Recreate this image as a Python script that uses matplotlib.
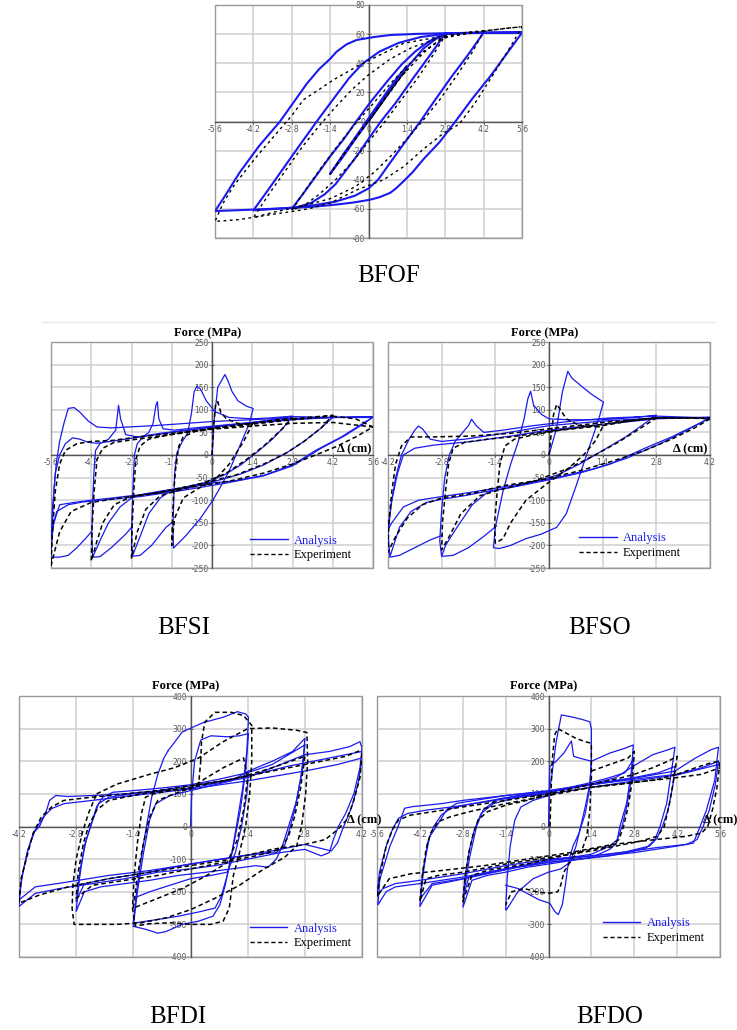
#!/usr/bin/env python3

import matplotlib
matplotlib.use('Agg')
import matplotlib.pyplot as plt
from matplotlib.lines import Line2D
from matplotlib.patches import Rectangle

W, H = 737, 1030
BLUE = '#1a1aee'
SERIF = 'Liberation Serif'
SANS = 'Liberation Sans'

# tick values
X56 = [-5.6, -4.2, -2.8, -1.4, 0, 1.4, 2.8, 4.2, 5.6]
X42 = [-4.2, -2.8, -1.4, 0, 1.4, 2.8, 4.2]
Y80 = [-80, -60, -40, -20, 0, 20, 40, 60, 80]
Y250 = [-250, -200, -150, -100, -50, 0, 50, 100, 150, 200, 250]
Y400 = [-400, -300, -200, -100, 0, 100, 200, 300, 400]

# ---------------- BFOF (displacement cm, force) ----------------
BFOF_A14 = [(0, 0), (0.5, 14), (1.0, 27), (1.4, 38), (1.0, 29), (0.4, 13), (-0.3, -6), (-0.9, -22),
            (-1.4, -36), (-1.0, -26), (-0.4, -10), (0.3, 8), (0.9, 24), (1.4, 37)]
BFOF_A28 = [(1.4, 37), (2.0, 50), (2.4, 56), (2.8, 60.5), (2.3, 47), (1.6, 29), (1.0, 13), (0.45, 0),
            (0, -12), (-0.4, -23), (-0.8, -33), (-1.2, -43), (-1.6, -50), (-2.1, -56), (-2.8, -60),
            (-2.4, -50), (-1.9, -37), (-1.4, -24), (-0.9, -12), (-0.45, 0), (0.1, 14), (0.7, 28),
            (1.2, 39), (1.7, 48), (2.2, 55), (2.8, 60.5)]
BFOF_A42 = [(2.8, 60.5), (3.5, 60.8), (4.2, 61), (3.6, 45), (3.0, 30), (2.4, 14), (1.89, 0), (1.3, -15),
            (0.8, -28), (0.35, -40), (0, -46), (-0.5, -51), (-1.2, -55), (-2.0, -57.5), (-3.0, -59.5),
            (-4.2, -61), (-3.7, -48), (-3.1, -32), (-2.5, -16), (-1.89, 0), (-1.3, 15), (-0.7, 30),
            (-0.2, 40), (0.4, 48), (1.1, 54), (1.9, 58), (2.8, 60.2), (4.2, 61)]
BFOF_A56 = [(4.2, 61), (5.0, 61), (5.6, 61), (5.1, 48), (4.44, 31), (3.8, 16), (3.17, 0), (2.6, -14),
            (2.0, -26), (1.6, -35), (1.28, -41), (1.0, -46), (0.79, -49), (0.4, -52), (0.06, -53.7),
            (-0.5, -55.5), (-1.16, -57), (-2.0, -58.5), (-2.86, -59.4), (-4.2, -60.5), (-5.6, -61.5),
            (-5.3, -53), (-4.7, -35), (-4.0, -17), (-3.23, 0), (-2.7, 14), (-2.25, 26), (-1.8, 36),
            (-1.4, 43), (-1.16, 48), (-0.8, 53), (-0.43, 56), (0.2, 58), (0.8, 59.4), (1.8, 60.2),
            (2.74, 60.6), (4.2, 61), (5.6, 61.2)]
BFOF_E14 = [(0, 0), (0.7, 18), (1.4, 36), (0.9, 24), (0.3, 8), (-0.4, -10), (-1.0, -25), (-1.4, -36),
            (-0.8, -20), (-0.2, -4), (0.5, 13), (1.1, 29), (1.4, 35)]
BFOF_E28 = [(1.4, 35), (2.0, 47), (2.5, 55), (2.8, 59), (2.3, 44), (1.8, 30), (1.2, 15), (0.6, 0),
            (0, -14), (-0.6, -28), (-1.2, -40), (-1.8, -50), (-2.3, -57), (-2.8, -61), (-2.3, -47),
            (-1.7, -31), (-1.1, -16), (-0.5, -2), (0.2, 13), (0.8, 26), (1.4, 38), (2.0, 48), (2.8, 58)]
BFOF_E42 = [(2.8, 58), (3.5, 61), (4.2, 62), (3.8, 48), (3.2, 31), (2.6, 15), (2.0, 1), (1.4, -12),
            (0.8, -24), (0.2, -35), (-0.5, -45), (-1.4, -53), (-2.4, -58), (-3.4, -62), (-4.2, -66),
            (-3.6, -49), (-3.0, -33), (-2.4, -17), (-1.8, -3), (-1.2, 10), (-0.6, 22), (0, 32),
            (0.8, 43), (1.6, 51), (2.4, 56), (3.2, 59), (4.2, 62)]
BFOF_E56 = [(4.2, 62), (5.0, 64), (5.6, 65), (5.2, 52), (4.44, 29), (3.9, 13), (3.3, -2), (2.74, -8),
            (2.0, -19), (1.28, -31), (0.55, -40), (-0.43, -47), (-1.4, -56), (-2.2, -60), (-2.86, -62),
            (-3.6, -64), (-4.08, -65.5), (-4.8, -67.5), (-5.6, -68.6), (-5.3, -56), (-4.93, -44.6),
            (-4.5, -34), (-4.08, -24), (-3.35, -8), (-2.8, 4), (-2.37, 15), (-1.8, 22), (-1.28, 28.6),
            (-0.43, 37.7), (0.3, 44.6), (1.28, 53.7), (2.25, 57), (3.0, 59.5), (3.83, 61.7),
            (4.6, 63), (5.54, 65)]

# ---------------- BFSI ----------------
BFSI_A14 = [(0, 0), (0.08, 80), (0.2, 150), (0.45, 178), (0.55, 165), (0.7, 140), (0.9, 120), (1.2, 108),
            (1.43, 103), (1.3, 70), (1.0, 25), (0.6, -35), (0.3, -70), (0.05, -98), (-0.4, -140),
            (-0.9, -178), (-1.34, -206), (-1.36, -160), (-1.33, -100), (-1.3, -40), (-1.22, 5),
            (-1.05, 28), (-0.85, 48), (-0.72, 90), (-0.62, 140), (-0.53, 152), (-0.4, 146), (-0.2, 120),
            (0.1, 96), (0.6, 83), (1.4, 80)]
BFSI_A28 = [(1.4, 80), (2.0, 82), (2.8, 86), (2.5, 62), (2.1, 35), (1.6, 8), (1.0, -22), (0.4, -45),
            (-0.3, -62), (-1.0, -72), (-1.4, -78), (-1.8, -95), (-2.2, -130), (-2.5, -180), (-2.77, -224),
            (-2.8, -195), (-2.78, -130), (-2.74, -60), (-2.7, 0), (-2.6, 25), (-2.4, 40), (-2.2, 50),
            (-2.05, 70), (-1.95, 110), (-1.9, 118), (-1.85, 80), (-1.7, 58), (-1.3, 55), (-0.6, 60),
            (0.2, 65), (1.4, 72), (2.8, 85)]
BFSI_A42 = [(2.8, 85), (3.5, 84), (4.2, 83), (3.8, 60), (3.2, 30), (2.6, 5), (1.8, -22), (1.0, -42),
            (0, -60), (-1.0, -72), (-1.8, -80), (-2.5, -88), (-2.8, -95), (-3.2, -115), (-3.6, -150),
            (-3.9, -190), (-4.15, -226), (-4.18, -180), (-4.15, -100), (-4.1, -30), (-4.05, 10),
            (-3.9, 25), (-3.6, 35), (-3.35, 55), (-3.25, 110), (-3.18, 80), (-3.0, 45), (-2.6, 40),
            (-1.8, 48), (-0.5, 58), (1.0, 68), (2.8, 78), (4.2, 83)]
BFSI_A56 = [(4.2, 83), (5.0, 84), (5.6, 84), (5.2, 68), (4.5, 40), (3.6, 10), (2.8, -22), (1.8, -45),
            (0.8, -57), (0, -62), (-1.0, -75), (-2.0, -85), (-2.8, -90), (-3.6, -96), (-4.2, -100),
            (-4.8, -105), (-5.3, -110), (-5.5, -150), (-5.6, -200), (-5.55, -150), (-5.5, -80),
            (-5.42, -20), (-5.3, 30), (-5.15, 70), (-5.0, 103), (-4.8, 105), (-4.6, 95), (-4.3, 75),
            (-4.0, 62), (-3.5, 60), (-2.0, 65), (0, 74), (2.0, 80), (4.0, 83), (5.6, 84)]
BFSI_A56B = [(5.6, 84), (5.3, 70), (4.6, 42), (3.8, 15), (2.8, -24), (1.8, -46), (0.5, -62), (-1.0, -78),
             (-2.5, -92), (-3.5, -98), (-4.5, -104), (-5.0, -110), (-5.4, -125), (-5.55, -160),
             (-5.6, -226), (-5.3, -226), (-5.0, -222), (-4.7, -205), (-4.4, -185), (-4.2, -170)]
BFSI_A56C = [(-5.6, -200), (-5.55, -120), (-5.45, -40), (-5.3, 0), (-5.1, 25), (-4.85, 38), (-4.6, 35),
             (-4.3, 28), (-4.0, 26), (-3.0, 35), (-1.4, 50), (0, 62), (1.4, 72), (2.8, 80), (4.2, 83),
             (5.6, 83)]
BFSI_L42 = [(-4.15, -226), (-3.9, -225), (-3.5, -205), (-3.0, -175), (-2.8, -160)]
BFSI_L28 = [(-2.77, -224), (-2.5, -222), (-2.1, -200), (-1.6, -160), (-1.4, -150)]
BFSI_E14 = [(0, 0), (0.05, 60), (0.12, 110), (0.2, 118), (0.3, 95), (0.5, 80), (0.9, 70), (1.4, 68),
            (1.1, 30), (0.6, -20), (0.1, -55), (-0.5, -75), (-1.0, -95), (-1.3, -140), (-1.4, -200),
            (-1.38, -150), (-1.33, -80), (-1.25, -20), (-1.15, 20), (-1.0, 40), (-0.6, 52), (0, 60),
            (0.7, 65), (1.4, 70)]
BFSI_E28 = [(1.4, 70), (2.1, 76), (2.8, 82), (2.4, 55), (1.8, 20), (1.2, -10), (0.5, -40), (-0.3, -62),
            (-1.0, -75), (-1.8, -90), (-2.3, -120), (-2.6, -170), (-2.8, -228), (-2.78, -160),
            (-2.72, -80), (-2.65, -10), (-2.5, 20), (-2.2, 35), (-1.5, 45), (-0.5, 55), (0.8, 65),
            (2.0, 75), (2.8, 80)]
BFSI_E42 = [(2.8, 80), (3.5, 84), (4.2, 88), (3.8, 60), (3.2, 30), (2.6, 5), (1.8, -20), (0.8, -45),
            (-0.5, -65), (-1.8, -82), (-2.8, -92), (-3.4, -110), (-3.8, -150), (-4.0, -190),
            (-4.2, -235), (-4.17, -160), (-4.1, -80), (-4.0, -10), (-3.8, 15), (-3.4, 28), (-2.6, 35),
            (-1.4, 45), (0, 58), (1.4, 68), (2.8, 78), (4.2, 86)]
BFSI_E56 = [(4.2, 86), (5.0, 80), (5.6, 62), (5.0, 40), (4.3, 18), (3.6, 0), (2.8, -20), (1.8, -40),
            (0.6, -58), (-0.8, -72), (-2.0, -85), (-3.2, -95), (-4.2, -105), (-4.9, -125), (-5.3, -170),
            (-5.6, -245), (-5.55, -170), (-5.45, -80), (-5.3, -20), (-5.1, 10), (-4.7, 25), (-4.2, 30),
            (-3.5, 32), (-2.8, 38), (-1.4, 48), (0, 57), (1.4, 64), (2.8, 70), (4.2, 72), (5.6, 62)]

# ---------------- BFSO ----------------
BFSO_A14 = [(0, 0), (0.2, 60), (0.35, 140), (0.49, 185), (0.6, 170), (0.85, 152), (1.1, 135), (1.42, 117),
            (1.3, 80), (1.1, 30), (0.9, -20), (0.7, -70), (0.45, -130), (0.2, -160), (-0.2, -175),
            (-0.6, -185), (-1.0, -200), (-1.3, -207), (-1.45, -205), (-1.4, -160), (-1.2, -80),
            (-1.0, -20), (-0.8, 30), (-0.65, 80), (-0.55, 125), (-0.48, 141), (-0.4, 110), (-0.2, 90),
            (0, 80), (0.5, 78), (1.4, 78)]
BFSO_A28 = [(1.4, 78), (2.1, 82), (2.8, 88), (2.5, 70), (2.0, 40), (1.4, 10), (0.8, -20), (0.2, -45),
            (-0.5, -62), (-1.2, -75), (-1.6, -82), (-2.0, -110), (-2.4, -160), (-2.7, -200), (-2.8, -225),
            (-2.85, -190), (-2.8, -120), (-2.72, -50), (-2.6, 0), (-2.45, 30), (-2.3, 45), (-2.1, 65),
            (-2.02, 79), (-1.9, 65), (-1.7, 50), (-1.2, 55), (-0.4, 65), (0.6, 75), (1.6, 82), (2.8, 86)]
BFSO_A42 = [(2.8, 86), (3.5, 84), (4.2, 82), (3.8, 65), (3.2, 40), (2.5, 15), (1.6, -20), (0.8, -40),
            (0, -55), (-1.0, -72), (-1.6, -80), (-2.2, -90), (-2.8, -98), (-3.2, -105), (-3.6, -125),
            (-3.9, -160), (-4.15, -225), (-4.2, -175), (-4.12, -110), (-4.0, -50), (-3.85, 0),
            (-3.65, 35), (-3.5, 55), (-3.41, 64), (-3.3, 58), (-3.1, 35), (-2.8, 30), (-2.2, 35),
            (-1.4, 45), (0, 65), (1.4, 75), (2.8, 82), (4.2, 82)]
BFSO_A42B = [(4.2, 82), (3.6, 55), (2.9, 25), (2.0, -8), (1.2, -30), (0.2, -50), (-1.0, -68), (-2.0, -82),
             (-2.8, -92), (-3.4, -100), (-3.8, -115), (-4.1, -150), (-4.2, -165), (-4.1, -100),
             (-3.95, -40), (-3.8, 0), (-3.5, 15), (-3.0, 22), (-2.0, 30), (-1.0, 42), (0, 55), (1.4, 68),
             (2.8, 80), (4.2, 84)]
BFSO_L42 = [(-4.15, -226), (-3.9, -222), (-3.5, -205), (-3.1, -188), (-2.8, -178)]
BFSO_L28 = [(-2.76, -224), (-2.5, -222), (-2.1, -205), (-1.7, -180), (-1.37, -157)]
BFSO_E14 = [(0, 0), (0.05, 40), (0.12, 90), (0.2, 112), (0.3, 100), (0.45, 80), (0.8, 65), (1.4, 62),
            (1.2, 30), (0.9, 0), (0.5, -30), (0, -60), (-0.6, -100), (-1.0, -150), (-1.2, -185),
            (-1.4, -195), (-1.42, -150), (-1.35, -80), (-1.28, -20), (-1.15, 20), (-0.9, 35),
            (-0.4, 45), (0.3, 55), (1.4, 65)]
BFSO_E28 = [(1.4, 65), (2.1, 75), (2.8, 82), (2.4, 60), (1.8, 28), (1.2, 0), (0.5, -30), (-0.4, -58),
            (-1.2, -75), (-1.8, -90), (-2.3, -130), (-2.6, -180), (-2.8, -210), (-2.78, -150),
            (-2.7, -80), (-2.62, -20), (-2.5, 15), (-2.2, 28), (-1.6, 35), (-1.0, 40), (0, 52),
            (1.4, 68), (2.8, 82)]
BFSO_E42 = [(2.8, 82), (3.6, 82), (4.2, 80), (3.8, 60), (3.2, 35), (2.5, 10), (1.6, -15), (0.8, -35),
            (-0.2, -55), (-1.2, -68), (-2.0, -85), (-2.8, -95), (-3.3, -110), (-3.7, -140), (-4.0, -180),
            (-4.2, -215), (-4.18, -150), (-4.1, -80), (-4.0, -20), (-3.85, 20), (-3.6, 40), (-3.0, 40),
            (-2.0, 42), (-1.0, 48), (0, 58), (1.4, 72), (2.8, 82), (4.2, 82)]

# ---------------- BFDI ----------------
BFDI_A1 = [(0, 0), (0.03, 100), (0.1, 200), (0.25, 265), (0.5, 278), (0.9, 275), (1.2, 278), (1.42, 285),
           (1.35, 170), (1.22, 50), (1.05, -60), (0.9, -150), (0.75, -215), (0.6, -250), (0.2, -262),
           (-0.3, -275), (-0.8, -285), (-1.4, -296), (-1.32, -200), (-1.2, -90), (-1.08, 0), (-0.95, 90),
           (-0.8, 160), (-0.65, 210), (-0.55, 232)]
BFDI_A2 = [(-0.55, 232), (-0.2, 290), (0.3, 318), (0.8, 335), (1.15, 352), (1.35, 345), (1.42, 335),
           (1.38, 230), (1.28, 120), (1.15, 20), (1.0, -90), (0.85, -180), (0.72, -240), (0.55, -275),
           (0.2, -290), (-0.2, -300), (-0.6, -322), (-0.8, -327), (-1.1, -315), (-1.4, -306)]
BFDI_A3 = [(-1.4, -306), (-1.3, -200), (-1.15, -80), (-1.0, 20), (-0.85, 70), (-0.5, 95), (0, 110),
           (0.5, 125), (1.0, 140), (1.42, 170), (1.38, 100), (1.25, 0), (1.1, -80), (0.9, -140),
           (0.5, -150), (0, -160), (-0.5, -180), (-1.0, -200), (-1.4, -220)]
BFDI_A4 = [(1.42, 170), (2.0, 200), (2.5, 230), (2.8, 270), (2.75, 180), (2.6, 80), (2.4, 0), (2.25, -60),
           (2.1, -100), (1.9, -125), (1.6, -120), (1.0, -130), (0.4, -140), (-0.3, -150), (-1.0, -165),
           (-1.6, -175), (-2.2, -185), (-2.6, -200), (-2.8, -260), (-2.72, -160), (-2.6, -60),
           (-2.45, 0), (-2.3, 60), (-2.15, 90), (-1.9, 105), (-1.4, 110), (-0.7, 118), (0, 128),
           (0.7, 145), (1.4, 165), (2.0, 190), (2.8, 250)]
BFDI_A5 = [(2.8, 250), (2.7, 150), (2.55, 50), (2.4, -20), (2.3, -60), (2.1, -80), (1.6, -85), (1.0, -95),
           (0, -115), (-1.0, -140), (-2.0, -160), (-2.6, -175), (-2.8, -230), (-2.7, -130),
           (-2.55, -40), (-2.42, 10), (-2.25, 70), (-2.0, 90), (-1.4, 100), (0, 118), (1.4, 150),
           (2.2, 190), (2.8, 220)]
BFDI_A6 = [(2.8, 220), (3.4, 230), (3.9, 245), (4.15, 260), (4.2, 240), (4.15, 180), (4.0, 100),
           (3.8, 40), (3.62, 0), (3.5, -40), (3.4, -80), (3.2, -90), (2.8, -70), (2.2, -80), (1.4, -100),
           (0.6, -120), (0, -130), (-0.8, -140), (-1.6, -160), (-2.4, -175), (-3.2, -190), (-3.8, -205),
           (-4.2, -245), (-4.15, -170), (-4.0, -80), (-3.85, -20), (-3.7, 0), (-3.55, 40), (-3.45, 80),
           (-3.3, 95), (-3.0, 92), (-2.4, 95), (-1.6, 100), (-0.8, 110), (0, 125), (0.8, 140),
           (1.6, 160), (2.4, 185), (3.2, 205), (4.2, 230)]
BFDI_A7 = [(4.2, 205), (4.1, 130), (3.95, 60), (3.75, 0), (3.6, -50), (3.45, -75), (2.8, -55), (2.0, -75),
           (1.0, -95), (0, -115), (-1.0, -135), (-2.0, -150), (-3.0, -170), (-3.8, -185), (-4.2, -225),
           (-4.12, -150), (-3.98, -70), (-3.8, -10), (-3.6, 30), (-3.4, 55), (-3.1, 70), (-2.4, 80),
           (-1.4, 95), (0, 115), (1.4, 140), (2.8, 170), (3.6, 190), (4.2, 210)]
BFDI_E1 = [(0.25, 200), (0.27, 260), (0.35, 320), (0.6, 350), (1.0, 350), (1.3, 340), (1.5, 310),
           (1.5, 200), (1.45, 100), (1.35, 0), (1.2, -80), (1.05, -150), (0.95, -250), (0.8, -290),
           (0.5, -300), (0, -300), (-0.5, -295), (-1.0, -298), (-1.35, -305), (-1.42, -250),
           (-1.38, -150), (-1.3, -50), (-1.2, 40), (-1.1, 90), (-0.9, 100), (-0.5, 110), (0, 115),
           (0.2, 130), (0.25, 200)]
BFDI_E2 = [(-2.3, 100), (-1.8, 130), (-1.0, 160), (-0.4, 180), (0.2, 210), (0.8, 260), (1.4, 300),
           (2.0, 302), (2.6, 295), (2.85, 288), (2.87, 200), (2.82, 100), (2.72, 0), (2.6, -60),
           (2.3, -95), (1.8, -130), (1.2, -180), (0.6, -220), (0, -255), (-0.6, -280), (-1.2, -295),
           (-1.8, -300), (-2.5, -300), (-2.85, -300), (-2.9, -250), (-2.88, -180), (-2.8, -100),
           (-2.65, -20), (-2.5, 40), (-2.3, 100)]
BFDI_E3 = [(4.2, 225), (4.15, 150), (4.0, 80), (3.82, 20), (3.6, -10), (3.3, -40), (2.8, -55), (2.0, -70),
           (1.0, -100), (0, -120), (-1.0, -140), (-2.0, -160), (-3.0, -185), (-3.7, -210), (-4.2, -235),
           (-4.15, -160), (-4.0, -90), (-3.85, -20), (-3.65, 30), (-3.4, 60), (-3.1, 80), (-2.4, 90),
           (-1.6, 100), (-0.8, 110), (0, 125), (0.8, 140), (1.6, 160), (2.4, 180), (3.2, 200),
           (3.8, 215), (4.2, 235)]
BFDI_E4 = [(2.8, 215), (2.7, 120), (2.55, 30), (2.4, -30), (2.2, -70), (1.6, -90), (0.8, -110), (0, -130),
           (-0.8, -150), (-1.6, -165), (-2.4, -180), (-2.8, -220), (-2.75, -140), (-2.62, -50),
           (-2.5, 0), (-2.3, 50), (-2.0, 80), (-1.2, 100), (0, 120), (1.2, 150), (2.0, 180), (2.8, 215)]
BFDI_E5 = [(-1.4, -250), (-1.3, -150), (-1.15, -50), (-1.0, 30), (-0.8, 80), (-0.4, 100), (0, 118),
           (0.4, 150), (0.8, 180), (1.3, 210), (1.4, 150), (1.3, 50), (1.15, -40), (0.9, -110),
           (0.4, -150), (-0.2, -190), (-0.8, -220), (-1.4, -250)]

# ---------------- BFDO ----------------
BFDO_A1 = [(0, 0), (0.02, 100), (0.04, 184), (0.25, 200), (0.5, 225), (0.7, 255), (0.75, 262), (0.82, 215),
           (1.0, 210), (1.4, 200), (1.35, 120), (1.2, 40), (1.0, -20), (0.8, -60), (0.65, -110),
           (0.55, -180), (0.45, -240), (0.32, -270), (0.2, -260), (0.04, -235), (-0.3, -225),
           (-0.72, -204), (-1.0, -190), (-1.4, -180)]
BFDO_A2 = [(-1.4, -255), (-1.35, -160), (-1.25, -60), (-1.1, 20), (-0.9, 60), (-0.5, 80), (0, 95),
           (0.1, 150), (0.25, 260), (0.42, 342), (0.8, 335), (1.1, 328), (1.35, 321), (1.4, 300),
           (1.4, 200), (1.35, 130), (1.2, 60), (1.05, 0), (0.9, -60), (0.7, -110), (0.4, -130), (0, -140),
           (-0.5, -160), (-1.0, -200), (-1.37, -255)]
BFDO_A3 = [(1.4, 200), (2.0, 225), (2.5, 240), (2.77, 250), (2.71, 173), (2.55, 71), (2.33, 0),
           (2.22, -51), (2.0, -70), (1.4, -95), (0.7, -105), (0, -115), (-0.7, -125), (-1.4, -140),
           (-2.0, -150), (-2.5, -165), (-2.79, -247), (-2.73, -184), (-2.57, -92), (-2.35, 0),
           (-2.13, 51), (-1.7, 82), (-1.0, 95), (0, 108), (0.7, 120), (1.4, 135), (2.0, 150),
           (2.5, 165), (2.77, 205)]
BFDO_A4 = [(2.77, 205), (2.7, 140), (2.55, 60), (2.4, 0), (2.25, -40), (2.0, -60), (1.4, -85), (0, -105),
           (-1.4, -130), (-2.2, -145), (-2.6, -155), (-2.78, -215), (-2.72, -150), (-2.58, -70),
           (-2.42, -10), (-2.2, 40), (-1.8, 70), (-1.0, 90), (0, 105), (1.4, 130), (2.2, 150),
           (2.77, 185)]
BFDO_A5 = [(2.77, 185), (3.4, 220), (3.9, 235), (4.13, 243), (4.02, 173), (3.86, 71), (3.64, 0),
           (3.47, -41), (3.2, -65), (2.8, -75), (2.0, -90), (1.0, -100), (0, -110), (-1.0, -125),
           (-2.0, -145), (-3.0, -165), (-3.8, -180), (-4.2, -245), (-4.1, -133), (-3.88, -31),
           (-3.66, 0), (-3.33, 51), (-3.0, 71), (-2.4, 80), (-1.4, 95), (0, 110), (1.4, 130),
           (2.8, 150), (3.6, 165), (4.13, 184)]
BFDO_A6 = [(4.13, 184), (4.05, 120), (3.9, 50), (3.72, 0), (3.55, -35), (3.3, -60), (2.5, -78), (1.0, -95),
           (0, -105), (-1.4, -130), (-2.8, -160), (-3.8, -175), (-4.18, -220), (-4.1, -150),
           (-3.95, -50), (-3.75, 0), (-3.5, 35), (-3.2, 55), (-2.6, 68), (-1.4, 88), (0, 105),
           (1.4, 128), (2.8, 148), (4.13, 170)]
BFDO_A7 = [(4.13, 170), (4.8, 210), (5.3, 235), (5.55, 243), (5.43, 143), (5.16, 51), (4.95, 0),
           (4.73, -51), (4.2, -60), (3.5, -70), (2.8, -80), (1.4, -95), (0, -110), (-1.4, -130),
           (-2.8, -155), (-4.2, -175), (-5.0, -185), (-5.3, -200), (-5.57, -240), (-5.51, -163),
           (-5.18, -61), (-4.91, 0), (-4.7, 56), (-4.43, 61), (-3.5, 70), (-2.8, 80), (-1.4, 95),
           (0, 108), (1.4, 128), (2.8, 145), (4.2, 160), (5.0, 180), (5.55, 200)]
BFDO_A8 = [(5.55, 200), (5.45, 130), (5.25, 50), (5.05, 0), (4.85, -40), (4.5, -55), (3.5, -65),
           (2.0, -85), (0, -100), (-1.4, -120), (-2.8, -145), (-4.2, -165), (-5.0, -175), (-5.4, -190),
           (-5.6, -210), (-5.52, -140), (-5.3, -60), (-5.1, -10), (-4.9, 25), (-4.6, 40), (-4.0, 50),
           (-3.0, 62), (-1.4, 85), (0, 100), (1.4, 120), (2.8, 140), (4.2, 158), (5.55, 190)]
BFDO_E1 = [(0.05, 0), (0.08, 100), (0.12, 200), (0.2, 280), (0.3, 300), (0.6, 285), (0.9, 270),
           (1.2, 260), (1.4, 255), (1.4, 150), (1.35, 50), (1.25, -30), (1.1, -70), (0.8, -95),
           (0.5, -140), (0.4, -180), (0.3, -200), (0, -205), (-0.4, -200), (-0.8, -190), (-1.2, -200),
           (-1.4, -240)]
BFDO_E2 = [(1.4, 170), (2.0, 190), (2.6, 210), (2.8, 230), (2.75, 150), (2.6, 60), (2.45, 0), (2.3, -40),
           (2.0, -60), (1.4, -70), (0.7, -85), (0, -100), (-0.7, -115), (-1.4, -125), (-2.0, -135),
           (-2.5, -150), (-2.8, -230), (-2.72, -150), (-2.6, -80), (-2.45, -20), (-2.3, 20), (-2.0, 45),
           (-1.4, 65), (-0.7, 80), (0, 100), (0.7, 115), (1.4, 130), (2.2, 145), (2.8, 160)]
BFDO_E3 = [(2.8, 160), (3.4, 180), (3.9, 200), (4.2, 215), (4.1, 150), (3.95, 70), (3.78, 0), (3.55, -30),
           (3.0, -45), (2.2, -60), (1.4, -75), (0, -95), (-1.4, -115), (-2.8, -140), (-3.6, -150),
           (-4.0, -160), (-4.2, -230), (-4.12, -150), (-4.0, -70), (-3.85, -20), (-3.6, 15), (-3.2, 30),
           (-2.6, 45), (-1.4, 70), (0, 95), (1.4, 120), (2.8, 135), (3.6, 145), (4.2, 160)]
BFDO_E4 = [(4.2, 160), (4.8, 180), (5.3, 195), (5.6, 200), (5.5, 120), (5.35, 50), (5.2, 0), (5.0, -20),
           (4.5, -30), (3.5, -40), (2.1, -55), (0.7, -80), (-0.7, -100), (-2.1, -120), (-3.5, -135),
           (-4.5, -145), (-5.2, -160), (-5.6, -215), (-5.5, -150), (-5.3, -60), (-5.1, -10), (-4.9, 20),
           (-4.5, 35), (-3.8, 45), (-2.8, 60), (-1.4, 80), (0, 100), (1.4, 120), (2.8, 135), (4.2, 150),
           (5.0, 160), (5.6, 180)]


def rect(l, t, r, b):
    return [l / W, 1 - b / H, (r - l) / W, (b - t) / H]


def frame(ax, xt, yt):
    ax.set_xlim(xt[0], xt[-1])
    ax.set_ylim(yt[0], yt[-1])
    ax.set_xticks(xt)
    ax.set_yticks(yt)
    ax.set_xticklabels(['%g' % v for v in xt], fontfamily=SANS)
    ax.set_yticklabels(['%g' % v for v in yt], fontfamily=SANS)
    ax.spines['top'].set_visible(False)
    ax.spines['right'].set_visible(False)
    for s in ['left', 'bottom']:
        ax.spines[s].set_position(('data', 0))
        ax.spines[s].set_color('#555555')
        ax.spines[s].set_linewidth(1.0)
        ax.spines[s].set_zorder(1.5)
    ax.add_patch(Rectangle((0, 0), 1, 1, transform=ax.transAxes, fill=False,
                           ec='#9a9a9a', lw=1.0, clip_on=False, zorder=0.6))
    ax.set_axisbelow(True)
    ax.grid(True, color='#cfcfcf', lw=1.1)
    ax.tick_params(direction='inout', length=3, width=0.7, labelsize=5.5,
                   colors='#555555', pad=1)


def draw(ax, loops, **kw):
    for loop in loops:
        xs, ys = zip(*loop)
        ax.plot(xs, ys, **kw)


def titles(ax, dx, legend_at):
    ax.text(0.485, 1.025, 'Force (MPa)', transform=ax.transAxes, ha='center', va='baseline',
            fontfamily=SERIF, fontweight='bold', fontsize=9, zorder=10)
    ax.annotate('\u0394 (cm)', (dx, 0), xytext=(0, 2), textcoords='offset points',
                ha='left', va='baseline', fontfamily=SERIF, fontweight='bold', fontsize=9,
                annotation_clip=False, zorder=10)
    handles = [Line2D([], [], color=BLUE, lw=1.0),
               Line2D([], [], color='black', lw=1.0, ls=(0, (3, 2)))]
    leg = ax.legend(handles, ['Analysis', 'Experiment'], loc='lower right',
                    bbox_to_anchor=legend_at, frameon=False, borderaxespad=0, borderpad=0,
                    handlelength=3.0, handletextpad=0.5, labelspacing=0.2,
                    prop={'family': SERIF, 'size': 9})
    leg.get_texts()[0].set_color(BLUE)
    leg.set_zorder(12)


def main():
    fig = plt.figure(figsize=(W / 100, H / 100), dpi=100)

    # thin rule above the middle row
    fig.add_artist(Line2D([42 / W, 715 / W], [1 - 322 / H] * 2, color='#e8e8e8', lw=1))

    ax1 = fig.add_axes(rect(215, 5, 522, 238))
    frame(ax1, X56, Y80)
    draw(ax1, [BFOF_A14, BFOF_A28, BFOF_A42, BFOF_A56], color=BLUE, lw=1.5, zorder=3)
    draw(ax1, [BFOF_E14, BFOF_E28, BFOF_E42, BFOF_E56], color='black', lw=1.0,
         ls=(0, (2, 2.5)), zorder=4)

    ax2 = fig.add_axes(rect(51, 342, 373, 568))
    frame(ax2, X56, Y250)
    draw(ax2, [BFSI_A14, BFSI_A28, BFSI_A42, BFSI_A56, BFSI_A56B, BFSI_A56C, BFSI_L42, BFSI_L28],
         color=BLUE, lw=0.9, zorder=3)
    draw(ax2, [BFSI_E14, BFSI_E28, BFSI_E42, BFSI_E56], color='black', lw=1.1,
         ls=(0, (3, 2)), zorder=4)
    titles(ax2, 4.35, (0.935, 0.03))

    ax3 = fig.add_axes(rect(388, 342, 710, 568))
    frame(ax3, X42, Y250)
    draw(ax3, [BFSO_A14, BFSO_A28, BFSO_A42, BFSO_A42B, BFSO_L42, BFSO_L28],
         color=BLUE, lw=0.9, zorder=3)
    draw(ax3, [BFSO_E14, BFSO_E28, BFSO_E42], color='black', lw=1.1, ls=(0, (3, 2)), zorder=4)
    titles(ax3, 3.23, (0.91, 0.04))

    ax5 = fig.add_axes(rect(377, 696, 720, 957))
    frame(ax5, X56, Y400)
    draw(ax5, [BFDO_A1, BFDO_A2, BFDO_A3, BFDO_A4, BFDO_A5, BFDO_A6, BFDO_A7, BFDO_A8],
         color=BLUE, lw=0.9, zorder=3)
    draw(ax5, [BFDO_E1, BFDO_E2, BFDO_E3, BFDO_E4], color='black', lw=1.1, ls=(0, (3, 2)), zorder=4)
    titles(ax5, 5.04, (0.955, 0.05))

    ax4 = fig.add_axes(rect(19, 696, 362, 957))
    frame(ax4, X42, Y400)
    draw(ax4, [BFDI_A1, BFDI_A2, BFDI_A3, BFDI_A4, BFDI_A5, BFDI_A6, BFDI_A7],
         color=BLUE, lw=0.9, zorder=3)
    draw(ax4, [BFDI_E1, BFDI_E2, BFDI_E3, BFDI_E4, BFDI_E5], color='black', lw=1.1,
         ls=(0, (3, 2)), zorder=4)
    titles(ax4, 3.84, (0.97, 0.03))
    ax4.patch.set_alpha(0)

    for label, x, y in [('BFOF', 389, 282), ('BFSI', 184, 634), ('BFSO', 600, 634),
                        ('BFDI', 178, 1023), ('BFDO', 610, 1023)]:
        fig.text(x / W, 1 - y / H, label, ha='center', va='baseline',
                 fontfamily=SERIF, fontsize=18)

    fig.savefig('out.png', dpi=100)


main()
